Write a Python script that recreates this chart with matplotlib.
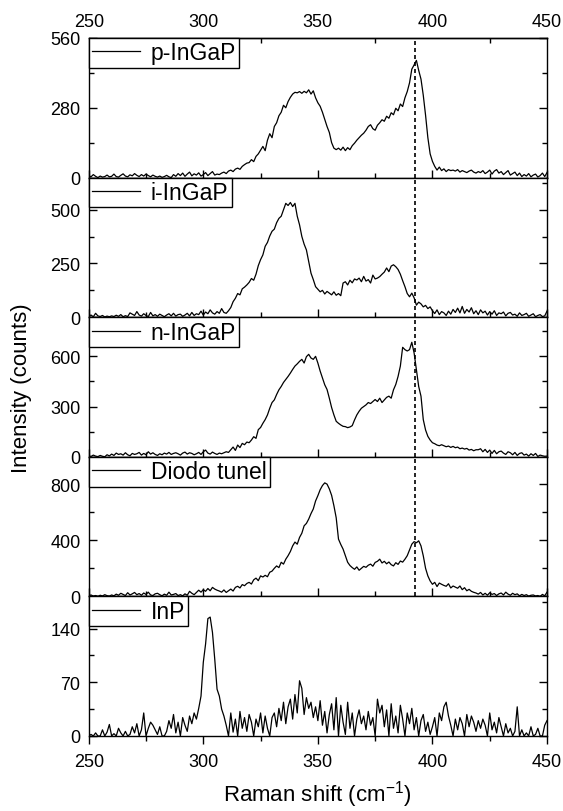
import numpy as np
import matplotlib
matplotlib.use("Agg")
import matplotlib.pyplot as plt
from matplotlib.ticker import MultipleLocator, FixedLocator

plt.rcParams['font.family'] = ['Liberation Sans', 'DejaVu Sans']
plt.rcParams['mathtext.fontset'] = 'custom'
plt.rcParams['mathtext.rm'] = 'Liberation Sans'

# Raman shift axis, 1 cm-1 steps
shift = np.arange(250, 451)
xticks = [250, 300, 350, 400, 450]
xminor = [275, 325, 375, 425]

p_ingap = [
    8, 3, 12, 5, 0, 6, 2, 4, 10, 3,
    5, 14, 4, 2, 9, 15, 6, 3, 11, 7,
    16, 9, 4, 12, 6, 14, 8, 3, 10, 5,
    2, 6, 1, 4, 9, 3, 0, 12, 5, 16,
    8, 18, 5, 14, 22, 7, 15, 10, 19, 6,
    12, 20, 8, 16, 24, 10, 14, 12, 18, 22,
    16, 26, 30, 24, 34, 38, 33, 45, 52, 58,
    60, 72, 64, 85, 95, 110, 125, 108, 150, 176,
    160, 205, 220, 248, 262, 290, 280, 305, 322, 335,
    342, 340, 345, 338, 346, 340, 352, 335, 348, 320,
    300, 286, 262, 234, 205, 181, 140, 118, 112, 118,
    110, 122, 108, 120, 112, 128, 138, 150, 160, 170,
    178, 190, 205, 212, 196, 190, 210, 220, 232, 226,
    246, 238, 260, 252, 278, 268, 295, 285, 320, 345,
    380, 435, 452, 470, 430, 395, 330, 250, 160, 95,
    65, 45, 30, 42, 28, 35, 24, 32, 28, 30,
    26, 32, 22, 28, 24, 20, 26, 30, 22, 18,
    24, 20, 28, 16, 22, 30, 14, 26, 32, 18,
    24, 12, 20, 28, 10, 16, 22, 8, 18, 4,
    12, 6, 16, 3, 10, 14, 2, 8, 18, 4,
    20]

i_ingap = [
    4, 10, 2, 18, 6, 3, 8, 1, 5, 2,
    6, 3, 9, 4, 12, 2, 7, 3, 20, 14,
    8, 26, 10, 5, 16, 8, 3, 22, 6, 12,
    4, 14, 8, 2, 10, 16, 6, 18, 5, 12,
    14, 4, 10, 18, 6, 22, 8, 16, 12, 28,
    10, 24, 16, 34, 20, 14, 26, 18, 40, 22,
    18, 30, 45, 72, 88, 110, 104, 132, 140, 150,
    162, 180, 172, 200, 240, 268, 290, 330, 348, 378,
    400, 410, 440, 460, 470, 500, 530, 520, 534, 515,
    530, 470, 430, 376, 340, 313, 260, 205, 175, 142,
    130, 118, 125, 108, 120, 112, 104, 118, 102, 110,
    100, 159, 165, 150, 172, 160, 178, 173, 182, 165,
    190, 168, 175, 159, 196, 178, 182, 189, 200, 210,
    229, 212, 238, 244, 235, 222, 200, 170, 142, 110,
    95, 112, 90, 56, 70, 62, 48, 55, 40, 48,
    30, 17, 34, 12, 26, 20, 8, 28, 14, 36,
    22, 42, 20, 50, 18, 36, 24, 44, 16, 30,
    12, 34, 20, 28, 10, 26, 14, 30, 8, 20,
    16, 24, 6, 18, 22, 10, 14, 4, 20, 8,
    12, 18, 4, 10, 16, 2, 8, 12, 3, 6,
    28]

n_ingap = [
    6, 2, 10, 4, 1, 8, 3, 0, 12, 5,
    16, 8, 22, 14, 18, 10, 24, 12, 6, 20,
    14, 18, 26, 10, 20, 12, 30, 16, 24, 14,
    8, 18, 12, 22, 16, 26, 14, 20, 24, 18,
    10, 22, 28, 16, 24, 20, 12, 18, 26, 14,
    30, 40, 22, 16, 28, 20, 14, 22, 18, 24,
    30, 26, 42, 58, 38, 70, 55, 80, 72, 88,
    84, 100, 120, 110, 162, 175, 200, 222, 250, 290,
    324, 340, 372, 400, 420, 444, 462, 480, 500, 522,
    542, 555, 570, 582, 560, 598, 612, 590, 582, 600,
    560, 512, 470, 430, 402, 350, 294, 250, 212, 200,
    190, 182, 180, 174, 178, 186, 220, 250, 272, 290,
    300, 310, 324, 318, 330, 342, 330, 350, 324, 340,
    355, 362, 350, 400, 432, 480, 542, 654, 640, 632,
    640, 684, 620, 522, 420, 362, 222, 160, 122, 100,
    84, 78, 70, 66, 72, 66, 60, 64, 56, 62,
    54, 58, 48, 52, 46, 50, 40, 44, 36, 42,
    42, 48, 30, 44, 26, 40, 20, 38, 18, 30,
    34, 22, 14, 30, 24, 12, 26, 8, 20, 24,
    10, 16, 4, 18, 8, 20, 2, 10, 6, 3,
    4]

diodo = [
    4, 10, 2, 6, 0, 8, 3, 12, 5, 2,
    10, 4, 16, 8, 22, 14, 6, 26, 10, 18,
    28, 12, 20, 8, 24, 14, 30, 10, 6, 18,
    22, 12, 4, 16, 8, 30, 10, 14, 20, 6,
    12, 4, 18, 8, 36, 22, 12, 28, 44, 30,
    48, 36, 56, 40, 64, 52, 44, 38, 30, 46,
    28, 40, 52, 38, 64, 72, 60, 84, 76, 92,
    100, 88, 118, 130, 112, 146, 138, 150, 140, 172,
    180, 200, 217, 205, 243, 230, 265, 290, 320, 360,
    387, 372, 420, 450, 503, 520, 551, 590, 623, 680,
    718, 760, 790, 809, 800, 766, 720, 646, 560, 408,
    370, 337, 290, 243, 220, 205, 193, 210, 186, 200,
    214, 207, 222, 230, 215, 242, 250, 265, 238, 250,
    232, 245, 226, 217, 240, 228, 252, 244, 265, 290,
    330, 372, 390, 382, 396, 360, 289, 200, 146, 110,
    86, 100, 70, 95, 86, 78, 72, 90, 60, 74,
    66, 58, 74, 48, 62, 40, 50, 36, 29, 24,
    16, 28, 10, 22, 8, 26, 14, 20, 6, 18,
    24, 10, 30, 16, 8, 22, 12, 18, 4, 14,
    6, 12, 2, 8, 10, 3, 6, 0, 14, 4,
    30]

inp = [
    0, 2, 0, 4, 0, 0, 8, 0, 5, 15,
    0, 3, 0, 10, 4, 0, 6, 0, 2, 12,
    4, 16, 0, 8, 30, 0, 10, 18, 14, 8,
    2, 12, 0, 0, 6, 20, 10, 28, 4, 18,
    0, 24, 14, 6, 26, 16, 30, 22, 36, 52,
    96, 120, 153, 155, 135, 100, 61, 52, 35, 26,
    14, 0, 30, 5, 22, 0, 32, 10, 24, 6,
    28, 18, 0, 22, 12, 30, 4, 26, 10, 0,
    24, 30, 12, 36, 20, 44, 16, 38, 48, 22,
    54, 30, 72, 62, 28, 50, 36, 44, 24, 38,
    20, 46, 14, 32, 4, 28, 42, 8, 50, 0,
    40, 18, 2, 44, 10, 30, 0, 22, 34, 16,
    26, 8, 32, 14, 24, 0, 48, 30, 40, 12,
    34, 0, 42, 10, 26, 4, 40, 22, 0, 30,
    16, 36, 8, 24, 0, 20, 28, 6, 18, 2,
    12, 24, 0, 30, 20, 38, 44, 26, 14, 0,
    22, 8, 24, 16, 0, 28, 12, 26, 18, 6,
    20, 10, 22, 14, 0, 30, 8, 18, 4, 24,
    12, 0, 16, 4, 10, 0, 6, 38, 0, 8,
    0, 4, 0, 12, 0, 2, 10, 0, 0, 14,
    20]

labels = ['p-InGaP', 'i-InGaP', 'n-InGaP', 'Diodo tunel', 'InP']
series = [p_ingap, i_ingap, n_ingap, diodo, inp]
ylims = [560, 650, 834, 995, 182]
yticks = [[0, 280, 560], [0, 250, 500], [0, 300, 600], [0, 400, 800], [0, 70, 140]]
yminor = [140, 125, 150, 200, 35]
peak_line = 392.5

fig, axes = plt.subplots(5, 1, sharex=True, figsize=(5.63, 8.12), dpi=100)
fig.subplots_adjust(left=0.1576, right=0.9716, top=0.952, bottom=0.0924, hspace=0)

for i, ax in enumerate(axes):
    ax.plot(shift, series[i], color='black', lw=0.9, label=labels[i])
    ax.set_xlim(250, 450)
    ax.set_ylim(0, ylims[i])
    ax.yaxis.set_major_locator(FixedLocator(yticks[i]))
    ax.yaxis.set_minor_locator(MultipleLocator(yminor[i]))
    ax.xaxis.set_major_locator(FixedLocator(xticks))
    ax.xaxis.set_minor_locator(FixedLocator(xminor))
    for sp in ax.spines.values():
        sp.set_linewidth(1.0)
    ax.tick_params(axis='y', which='both', direction='in', left=True, right=True,
                   labelsize=13, pad=6, width=1.0)
    ax.tick_params(axis='y', which='major', length=6)
    ax.tick_params(axis='y', which='minor', length=3.5)
    if i < 4:
        ax.tick_params(axis='x', which='both', direction='in', top=False,
                       labelbottom=False, width=1.0)
        ax.axvline(peak_line, color='black', lw=1.2, ls=(0, (2.4, 1.8)))
    else:
        ax.tick_params(axis='x', which='both', direction='out', top=False,
                       labelsize=13, pad=6, width=1.0)
    ax.tick_params(axis='x', which='major', length=6)
    ax.tick_params(axis='x', which='minor', length=3.5)
    leg = ax.legend(loc='upper left', bbox_to_anchor=(0, 1), borderaxespad=0,
                    fontsize=16.5, handlelength=2.1, handletextpad=0.45,
                    borderpad=0.15, fancybox=False, framealpha=1,
                    edgecolor='black')
    leg.get_frame().set_linewidth(1.0)

top = axes[0].secondary_xaxis('top')
top.xaxis.set_major_locator(FixedLocator(xticks))
top.xaxis.set_minor_locator(FixedLocator(xminor))
top.tick_params(which='major', length=0, pad=6, labelsize=13)
top.tick_params(which='minor', direction='in', length=3.5, width=1.0)
top.spines['top'].set_linewidth(1.0)

fig.text(22 / 563, 1 - 388 / 812, 'Intensity (counts)', rotation=90,
         ha='center', va='center', fontsize=16)
fig.text(317 / 563, 1 - 795 / 812, 'Raman shift (cm$^{\\mathregular{-1}}$)',
         ha='center', va='center', fontsize=16)

fig.savefig('out.png', dpi=100)
